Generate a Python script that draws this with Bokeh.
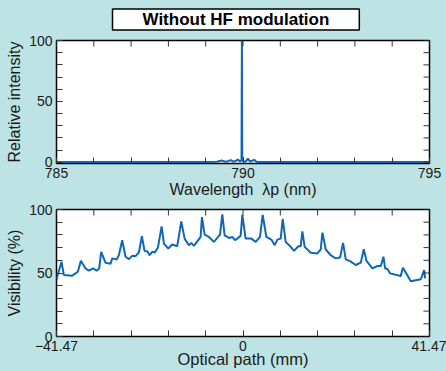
import math
from bokeh.plotting import figure
from bokeh.models import FixedTicker, Range1d
from bokeh.layouts import column
from bokeh.embed import file_html
from bokeh.resources import INLINE

# ---------------- data ----------------
wavelength = [785.0, 789.0, 789.3, 789.43, 789.52, 789.6, 789.67, 789.74, 789.8, 789.86,
              789.92, 789.96, 789.97, 789.98, 790.03, 790.08, 790.13, 790.19, 790.25,
              790.3, 790.37, 791.0, 795.0]
intensity = [0.3, 0.3, 0.4, 1.5, 0.5, 0.9, 1.8, 0.6, 1.0, 2.3,
             0.6, 1.5, 100.0, 1.5, 0.5, 0.8, 3.0, 0.6, 1.3,
             2.0, 0.3, 0.3, 0.3]

path_mm = [-41.47, -40.36, -39.84, -37.98, -37.24, -36.72, -36.05, -35.02, -34.27, -33.31,
           -32.57, -31.97, -31.53, -30.56, -29.45, -29.08, -28.12, -27.60, -26.86, -26.11,
           -25.37, -24.63, -23.89, -23.15, -22.48, -21.89, -21.29, -20.77, -20.18, -19.59,
           -18.92, -18.10, -17.58, -16.62, -15.73, -14.62, -13.73, -12.98, -12.02, -11.50,
           -10.91, -9.42, -9.13, -8.53, -7.57, -6.46, -5.71, -5.12, -4.60, -4.08,
           -3.12, -2.38, -1.78, -0.52, -0.15, 0.59, 1.85, 2.82, 3.78, 4.38,
           5.19, 6.30, 7.05, 7.64, 8.38, 8.83, 9.49, 10.61, 11.35, 12.31,
           12.83, 13.20, 13.72, 15.06, 16.54, 17.28, 17.66, 18.40, 19.51, 20.62,
           21.59, 22.25, 22.85, 23.81, 25.07, 26.19, 26.85, 27.45, 28.78, 29.90,
           30.64, 31.23, 31.60, 32.12, 32.71, 35.09, 35.53, 36.20, 37.31, 39.54,
           40.28, 40.50]
visibility = [45.0, 58.9, 48.4, 47.9, 49.7, 51.0, 59.6, 53.6, 51.8, 53.6,
              51.8, 53.6, 66.7, 58.0, 57.3, 61.5, 60.7, 64.0, 75.8, 62.8,
              60.9, 63.5, 63.3, 66.1, 78.9, 67.4, 67.2, 64.0, 66.7, 66.1,
              70.0, 86.7, 73.2, 69.3, 72.4, 71.1, 90.6, 77.1, 71.9, 73.7,
              71.4, 78.4, 94.0, 80.2, 78.4, 74.5, 77.6, 80.2, 96.1, 79.7,
              77.6, 78.4, 75.8, 79.2, 95.8, 77.1, 77.1, 74.5, 78.4, 95.8,
              78.4, 76.3, 71.9, 76.3, 77.1, 92.7, 74.5, 70.6, 67.4, 71.1,
              71.1, 82.8, 70.6, 65.9, 65.4, 68.5, 81.8, 68.5, 64.0, 61.5,
              62.2, 73.7, 60.7, 59.4, 56.3, 58.1, 68.8, 59.6, 53.6, 55.5,
              55.5, 62.8, 53.6, 53.1, 49.7, 47.7, 54.2, 50.3, 43.5, 45.1,
              52.3, 45.8]

wl_major = [785, 790, 795]
wl_minor = [785, 786, 787, 788, 789, 790, 791, 792, 793, 794, 795]
level_major = [0, 50, 100]
level_minor = [0, 10, 20, 30, 40, 50, 60, 70, 80, 90, 100]
path_major = [-41.47, 0, 41.47]
path_labels = {-41.47: "\u221241.47", 0: "0", 41.47: "41.47"}
path_minor = [round(-41.47 + i * 82.94 / 10, 3) for i in range(11)]

title_text = "Without HF modulation"
xlabel_top = "Wavelength\u00a0 \u03bbp (nm)"
ylabel_top = "Relative intensity"
xlabel_bottom = "Optical path (mm)"
ylabel_bottom = "Visibility (%)"

# ---------------- style ----------------
BG = "#bde3e5"
LINE = "#0f67b5"
FONT = "Liberation Sans"
TXT = "#1a1a1a"
TICK = "#333333"


def style(p, xmaj, xmin, ymaj, ymin, xr, yr, xover=None):
    p.background_fill_color = "white"
    p.border_fill_color = BG
    p.outline_line_color = "black"
    p.outline_line_width = 1.5
    p.xgrid.visible = False
    p.ygrid.visible = False
    p.xaxis.ticker = FixedTicker(ticks=xmaj, minor_ticks=xmin)
    p.yaxis.ticker = FixedTicker(ticks=ymaj, minor_ticks=ymin)
    if xover:
        p.xaxis.major_label_overrides = xover
    for ax in (p.xaxis[0], p.yaxis[0]):
        ax.axis_line_color = None
        ax.major_tick_in = 6
        ax.major_tick_out = 0
        ax.minor_tick_in = 6
        ax.minor_tick_out = 0
        ax.major_tick_line_color = TICK
        ax.minor_tick_line_color = TICK
        ax.major_label_standoff = 4
        ax.major_label_text_font = FONT
        ax.major_label_text_font_size = "14px"
        ax.major_label_text_color = TXT
        ax.axis_label_text_font = FONT
        ax.axis_label_text_font_style = "normal"
        ax.axis_label_text_color = TXT
        ax.axis_label_text_font_size = "16px"
        ax.axis_label_standoff = 3
    # tick marks on the top and right edges of the frame
    p.ray(x=xmin, y=[yr[1]] * len(xmin), length=6, length_units="screen",
          angle=-math.pi / 2, line_color=TICK, line_width=1)
    p.ray(x=[xr[1]] * len(ymin), y=ymin, length=6, length_units="screen",
          angle=math.pi, line_color=TICK, line_width=1)


# ---------------- top plot ----------------
xr1, yr1 = (785, 795), (-1, 100)
p1 = figure(width=446, height=200, output_backend="svg", toolbar_location=None,
            x_range=Range1d(*xr1), y_range=Range1d(*yr1),
            min_border_left=56, min_border_right=17, min_border_top=40, min_border_bottom=35)
p1.line(wavelength, intensity, line_color=LINE, line_width=2)
style(p1, wl_major, wl_minor, level_major, level_minor, xr1, yr1)
p1.yaxis[0].axis_label = ylabel_top
p1.xaxis[0].axis_label = xlabel_top
p1.xaxis[0].axis_label_standoff = 0

p1.title.text = title_text
p1.title.align = "left"
p1.title.vertical_align = "top"
p1.title.offset = 56
p1.title.text_font = FONT
p1.title.text_font_size = "17px"
p1.title.text_font_style = "bold"
p1.title.text_color = "black"
p1.title.background_fill_color = "white"
p1.title.border_line_color = "black"
p1.title.border_line_width = 1.5
p1.title.padding = (30, 30, 1, 1)
p1.title.standoff = 17

# ---------------- bottom plot ----------------
xr2, yr2 = (-41.47, 41.47), (0, 100)
p2 = figure(width=446, height=171, output_backend="svg", toolbar_location=None,
            x_range=Range1d(*xr2), y_range=Range1d(*yr2),
            min_border_left=56, min_border_right=17, min_border_top=9, min_border_bottom=35)
p2.line(path_mm, visibility, line_color=LINE, line_width=2)
style(p2, path_major, path_minor, level_major, level_minor, xr2, yr2, xover=path_labels)
p2.yaxis[0].axis_label = ylabel_bottom
p2.xaxis[0].axis_label = xlabel_bottom
p2.xaxis[0].axis_label_text_font_size = "16.5px"
p2.xaxis[0].axis_label_standoff = -4

layout = column(p1, p2, spacing=0, styles={"background-color": BG})

open("out.html", "w").write(file_html(layout, INLINE))
